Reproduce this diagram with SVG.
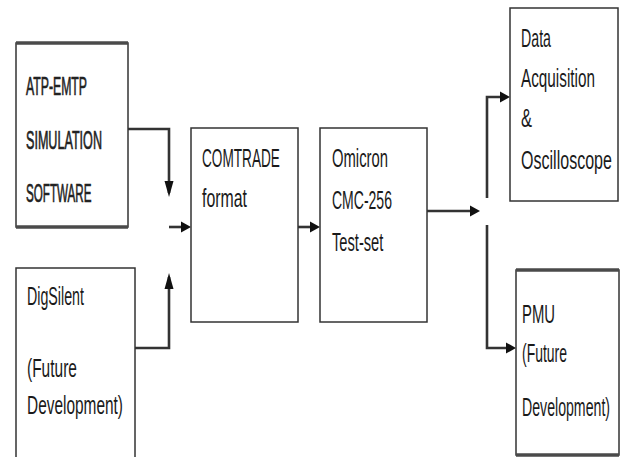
<svg xmlns="http://www.w3.org/2000/svg" width="621" height="457" viewBox="0 0 621 457">
<style>
.box{fill:#fff;stroke:#333;stroke-width:1.5}
.thick{stroke:#4a4a4a;stroke-width:3.5}
.t{font-family:"Liberation Sans",Arial,sans-serif;font-size:25px;fill:#1a1a1a}
.b{font-size:26px;fill:#222;stroke:#222;stroke-width:0.7}
.c{fill:none;stroke:#333;stroke-width:2.6}
</style>
<defs>
<marker id="ah" markerUnits="userSpaceOnUse" markerWidth="12" markerHeight="12" refX="6" refY="6" orient="auto">
<path d="M0,0.5 L10,6 L0,11.5 z" fill="#111"/>
</marker>
<marker id="av" markerUnits="userSpaceOnUse" markerWidth="18" markerHeight="10" refX="12" refY="5" orient="auto">
<path d="M0,0.5 L16,5 L0,9.5 z" fill="#111"/>
</marker>
</defs>
<rect width="621" height="457" fill="#fff"/>
<g id="connectors">
<path class="c" d="M128,129 H169 V193" marker-end="url(#av)"/>
<path class="c" d="M135,348 H169 V277" marker-end="url(#av)"/>
<path class="c" d="M169,227 H187" marker-end="url(#ah)"/>
<path class="c" d="M298,227 H316" marker-end="url(#ah)"/>
<path class="c" d="M427,211 H476" marker-end="url(#ah)"/>
<path class="c" d="M487,198 V97 H506" marker-end="url(#ah)"/>
<path class="c" d="M487,225 V348 H512" marker-end="url(#ah)"/>
</g>
<g id="atp">
<rect class="box" x="16" y="43" width="112" height="184"/>
<line class="thick" x1="16" y1="43" x2="128" y2="43"/>
<line class="thick" x1="16" y1="227" x2="128" y2="227"/>
<text class="t b" transform="matrix(0.4715 0 0 1 26 95)">ATP-EMTP</text>
<text class="t b" transform="matrix(0.4846 0 0 1 26 149)">SIMULATION</text>
<text class="t b" transform="matrix(0.448 0 0 1 26 202)">SOFTWARE</text>
</g>
<g id="digsilent">
<rect class="box" x="16" y="268" width="119" height="190"/>
<text class="t" transform="matrix(0.57 0 0 1 27 305)">DigSilent</text>
<text class="t" transform="matrix(0.62 0 0 1 27 377)">(Future</text>
<text class="t" transform="matrix(0.617 0 0 1 27 414)">Development)</text>
</g>
<g id="comtrade">
<rect class="box" x="191" y="128" width="107" height="194"/>
<text class="t" transform="matrix(0.545 0 0 1 202 167)">COMTRADE</text>
<text class="t" transform="matrix(0.635 0 0 1 202 207)">format</text>
</g>
<g id="omicron">
<rect class="box" x="320" y="128" width="107" height="194"/>
<text class="t" transform="matrix(0.593 0 0 1 332 167)">Omicron</text>
<text class="t" transform="matrix(0.561 0 0 1 332 209)">CMC-256</text>
<text class="t" transform="matrix(0.587 0 0 1 332 251)">Test-set</text>
</g>
<g id="daq">
<rect class="box" x="510" y="8" width="108" height="193"/>
<text class="t" transform="matrix(0.568 0 0 1 521 47)">Data</text>
<text class="t" transform="matrix(0.612 0 0 1 521 87)">Acquisition</text>
<text class="t" transform="matrix(0.66 0 0 1 521 127)">&amp;</text>
<text class="t" transform="matrix(0.642 0 0 1 521 169)">Oscilloscope</text>
</g>
<g id="pmu">
<rect class="box" x="516" y="270" width="103" height="185"/>
<line class="thick" x1="516" y1="270" x2="619" y2="270"/>
<line class="thick" x1="516" y1="455" x2="619" y2="455"/>
<text class="t" transform="matrix(0.594 0 0 1 522 323)">PMU</text>
<text class="t" transform="matrix(0.558 0 0 1 522 362)">(Future</text>
<text class="t" transform="matrix(0.566 0 0 1 522 416)">Development)</text>
</g>
</svg>
